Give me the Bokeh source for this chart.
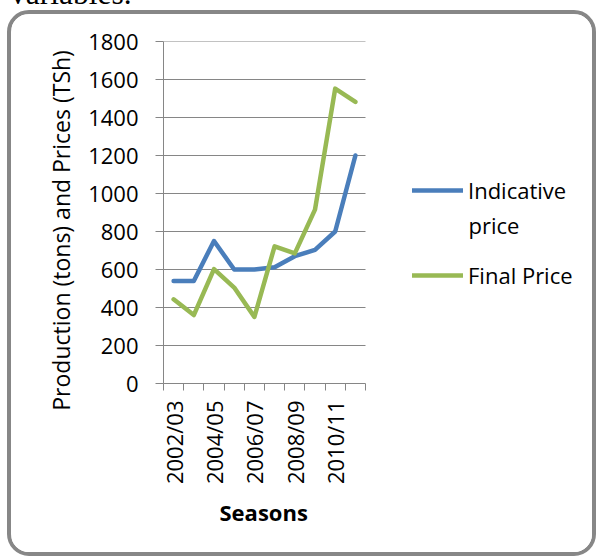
import math
from bokeh.plotting import figure
from bokeh.models import FixedTicker, Legend, LegendItem, Range1d, Label, Title, Div, Column
from bokeh.embed import file_html
from bokeh.resources import INLINE

seasons = ["2002/03", "2003/04", "2004/05", "2005/06", "2006/07",
           "2007/08", "2008/09", "2009/10", "2010/11", "2011/12"]
indicative_price = [540, 540, 750, 600, 600, 612, 670, 703, 800, 1200]
final_price = [443, 360, 602, 505, 350, 722, 685, 915, 1552, 1482]
y_ticks = [0, 200, 400, 600, 800, 1000, 1200, 1400, 1600, 1800]
y_title = "Production (tons) and Prices (TSh)"
x_title = "Seasons"
series_names = ["Indicative price", "Final Price"]
above_text = "variables."

FONT = "Open Sans"
GRAY = "#868686"
BLUE = "#4A7EBB"
GREEN = "#98B954"

W, H = 589, 546
LEFT, TOP, BOTTOM = 152, 27, 177
CAT_PX = 202  # pixel width of the category area

xs = list(range(1, len(seasons) + 1))
x_lo, x_hi = 0.5, len(seasons) + 0.5
x_end = x_lo + (W - LEFT) * len(seasons) / CAT_PX

p = figure(width=W, height=H, output_backend="svg", toolbar_location=None,
           x_range=Range1d(x_lo, x_end),
           y_range=Range1d(y_ticks[0], y_ticks[-1]),
           min_border_left=LEFT, min_border_right=0,
           min_border_top=TOP, min_border_bottom=BOTTOM,
           margin=(0, 0, 0, 7),
           styles={"border": "4px solid #878787", "border-radius": "22px",
                   "overflow": "hidden"})
p.outline_line_color = None
p.background_fill_color = "white"
p.border_fill_color = "white"
p.xgrid.grid_line_color = None
p.ygrid.grid_line_color = None

# y axis
p.yaxis.ticker = FixedTicker(ticks=y_ticks)
p.yaxis.axis_line_color = GRAY
p.yaxis.major_tick_line_color = GRAY
p.yaxis.major_tick_out = 8
p.yaxis.major_tick_in = 0
p.yaxis.minor_tick_line_color = None
p.yaxis.major_label_standoff = 17
p.yaxis.major_label_text_font = FONT
p.yaxis.major_label_text_font_size = "22px"
p.yaxis.major_label_text_color = "black"
p.yaxis.axis_label = y_title + "\u00a0" * 6
p.yaxis.axis_label_text_font = FONT
p.yaxis.axis_label_text_font_size = "23px"
p.yaxis.axis_label_text_font_style = "normal"
p.yaxis.axis_label_text_color = "black"
p.yaxis.axis_label_standoff = 8

# x axis
p.xaxis.bounds = (x_lo, x_hi)
p.xaxis.ticker = FixedTicker(ticks=xs[::2], minor_ticks=[x - 0.5 for x in xs] + [x_hi])
p.xaxis.major_label_overrides = {xs[i]: seasons[i] for i in range(0, len(seasons), 2)}
p.xaxis.major_label_orientation = math.pi / 2
p.xaxis.axis_line_color = GRAY
p.xaxis.major_tick_line_color = None
p.xaxis.minor_tick_line_color = GRAY
p.xaxis.minor_tick_out = 7
p.xaxis.minor_tick_in = 0
p.xaxis.major_label_standoff = 10
p.xaxis.major_label_text_font = FONT
p.xaxis.major_label_text_font_size = "22px"
p.xaxis.major_label_text_color = "black"

xt = Title(text=x_title, align="left", offset=56, vertical_align="top", standoff=19,
           text_font=FONT, text_font_size="22px", text_font_style="bold",
           text_color="black")
p.add_layout(xt, "below")

# horizontal gridlines over the category area only
grid_y = y_ticks[1:]
p.segment(x0=[x_lo] * len(grid_y), y0=grid_y, x1=[x_hi] * len(grid_y), y1=grid_y,
          line_color=GRAY, line_width=1)

r1 = p.line(xs, indicative_price, line_color=BLUE, line_width=4.5,
            line_join="round", line_cap="round")
r2 = p.line(xs, final_price, line_color=GREEN, line_width=4.5,
            line_join="round", line_cap="round")

ind_words = series_names[0].split(" ")
legend_kw = dict(glyph_width=51, glyph_height=26, label_standoff=5, padding=0,
                 margin=0, border_line_color=None, background_fill_alpha=0,
                 label_text_font=FONT, label_text_font_size="22px",
                 label_text_color="black")
leg1 = Legend(items=[LegendItem(label=ind_words[0], renderers=[r1])],
              location=(249, 178), **legend_kw)
leg2 = Legend(items=[LegendItem(label=series_names[1], renderers=[r2])],
              location=(249, 93), **legend_kw)
p.add_layout(leg1)
p.add_layout(leg2)
wrap = Label(x=305, y=159, x_units="screen", y_units="screen", text=ind_words[1],
             text_align="left", text_baseline="middle", text_font=FONT,
             text_font_size="22px", text_color="black")
p.add_layout(wrap)

top_div = Div(
    text=('<div style="position:relative; top:-22px; margin-left:10px; '
          'font-family:\'Liberation Serif\'; font-size:31.5px; line-height:31.5px; '
          'white-space:nowrap; color:black;">' + above_text + '</div>'),
    width=590, height=10, margin=0, styles={"overflow": "hidden"})

layout = Column(children=[top_div, p], spacing=0, margin=0)

open("out.html", "w").write(file_html(layout, INLINE))
